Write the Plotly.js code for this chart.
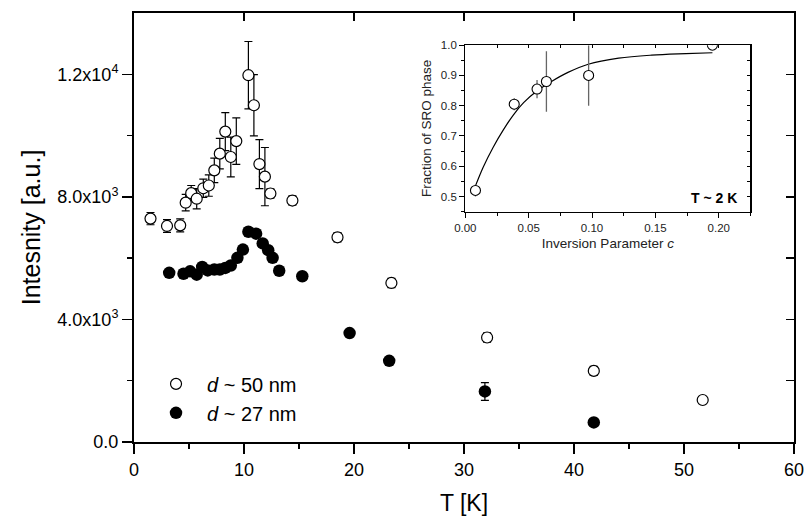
<!DOCTYPE html>
<html>
<head>
<meta charset="utf-8">
<script src="https://cdn.plot.ly/plotly-3.0.1.min.js"></script>
<style>html,body{margin:0;padding:0;background:#fff;}#chart{width:806px;height:519px;}</style>
</head>
<body>
<div id="chart"></div>
<script>
// Main panel: d ~ 50 nm (open circles)
const T50   = [1.5, 3.0, 4.2, 4.7, 5.2, 5.7, 6.3, 6.8, 7.3, 7.8, 8.3, 8.8, 9.3, 10.4, 10.9, 11.4, 11.9, 12.4, 14.4, 18.5, 23.4, 32.1, 41.8, 51.7];
const I50   = [7290, 7050, 7070, 7810, 8120, 7940, 8280, 8370, 8865, 9410, 10130, 9300, 9820, 11970, 10990, 9070, 8660, 8110, 7880, 6680, 5190, 3410, 2320, 1370];
const err50 = [200, 210, 210, 270, 250, 330, 300, 350, 400, 500, 620, 650, 760, 1100, 1000, 800, 950, 150, 150, 150, 150, 150, 150, 100];
// Main panel: d ~ 27 nm (filled circles)
const T27   = [3.2, 4.5, 5.1, 5.7, 6.2, 6.7, 7.3, 7.8, 8.3, 8.8, 9.4, 9.9, 10.4, 11.1, 11.7, 12.2, 12.6, 13.2, 15.3, 19.6, 23.2, 31.9, 41.8];
const I27   = [5520, 5490, 5570, 5460, 5710, 5600, 5630, 5630, 5680, 5760, 6010, 6280, 6860, 6800, 6480, 6260, 6010, 5590, 5410, 3555, 2650, 1650, 640];
const err27 = [0, 0, 0, 0, 0, 0, 0, 0, 0, 0, 0, 0, 0, 0, 0, 0, 0, 0, 0, 0, 0, 290, 0];
// Inset: fraction of SRO phase vs inversion parameter
const cInv   = [0.008, 0.0386, 0.0566, 0.064, 0.0973, 0.195];
const fSRO   = [0.52, 0.805, 0.855, 0.88, 0.90, 1.0];
const errSRO = [0.02, 0.02, 0.03, 0.10, 0.10, 0.005];
// Inset fit curve
const fitC = [0.008, 0.014, 0.022, 0.030, 0.038, 0.046, 0.057, 0.068, 0.081, 0.097, 0.121, 0.147, 0.174, 0.195];
const fitF = [0.535, 0.596, 0.663, 0.720, 0.770, 0.810, 0.850, 0.880, 0.910, 0.937, 0.957, 0.967, 0.972, 0.975];
// Tick labels
const yTickVals = [0, 4000, 8000, 12000];
const yTickText = ['0.0', '4.0x10<sup>3</sup>', '8.0x10<sup>3</sup>', '1.2x10<sup>4</sup>'];
const yMinorVals = [2000, 6000, 10000];
const legendNames = ['<i>d</i> ~ 50 nm', '<i>d</i> ~ 27 nm'];

const FONT = 'Arial, "Liberation Sans", sans-serif';

const traces = [
  {
    x: T50, y: I50, type: 'scatter', mode: 'markers', name: legendNames[0],
    legendgroup: 'a',
    marker: {symbol: 'circle', size: 11, color: '#ffffff', line: {color: '#000000', width: 1.2}},
    error_y: {type: 'data', array: err50, visible: true, color: '#000000', thickness: 1.2, width: 4},
    hoverinfo: 'x+y'
  },
  {
    x: T27, y: I27, type: 'scatter', mode: 'markers', name: legendNames[1],
    legendgroup: 'b',
    marker: {symbol: 'circle', size: 12.5, color: '#000000', line: {color: '#000000', width: 0}},
    error_y: {type: 'data', array: err27, visible: true, color: '#000000', thickness: 1.2, width: 4},
    hoverinfo: 'x+y'
  },
  {
    x: fitC, y: fitF, type: 'scatter', mode: 'lines', xaxis: 'x2', yaxis: 'y2',
    line: {color: '#000000', width: 1.2, shape: 'spline', smoothing: 1}, showlegend: false, hoverinfo: 'skip'
  },
  {
    x: cInv, y: fSRO, type: 'scatter', mode: 'markers', xaxis: 'x2', yaxis: 'y2',
    marker: {symbol: 'circle', size: 10, color: '#ffffff', line: {color: '#000000', width: 1.1}},
    error_y: {type: 'data', array: errSRO, visible: true, color: '#666666', thickness: 1.3, width: 0},
    showlegend: false
  },
  {x: [null], y: [null], xaxis: 'x3', yaxis: 'y3', type: 'scatter', mode: 'markers', showlegend: false, hoverinfo: 'skip'},
  {x: [null], y: [null], xaxis: 'x4', yaxis: 'y4', type: 'scatter', mode: 'markers', showlegend: false, hoverinfo: 'skip'}
];

const layout = {
  width: 806, height: 519,
  margin: {l: 134, r: 12, t: 13, b: 77},
  paper_bgcolor: '#ffffff', plot_bgcolor: '#ffffff',
  font: {family: FONT, color: '#000000', size: 18},
  showlegend: true,
  legend: {
    x: 0.0167, y: 0.181, xanchor: 'left', yanchor: 'top',
    bgcolor: 'rgba(0,0,0,0)', borderwidth: 0,
    font: {family: FONT, size: 20, color: '#000000'},
    traceorder: 'grouped', tracegroupgap: 0, itemwidth: 52
  },
  xaxis: {
    domain: [0, 1], range: [0, 60], tickmode: 'linear', tick0: 0, dtick: 10,
    ticks: 'outside', ticklen: 10, tickwidth: 1.5, tickcolor: '#000',
    minor: {dtick: 5, ticks: 'outside', ticklen: 5, tickwidth: 1.5, tickcolor: '#000'},
    showline: true, linewidth: 2, linecolor: '#000', mirror: true,
    showgrid: false, zeroline: false,
    tickfont: {family: FONT, size: 18},
    title: {text: 'T [K]', font: {family: FONT, size: 23}, standoff: 16}
  },
  yaxis: {
    domain: [0, 1], range: [0, 14000], tickmode: 'array', tickvals: yTickVals, ticktext: yTickText,
    ticks: 'outside', ticklen: 10, tickwidth: 1.5, tickcolor: '#000',
    minor: {tickmode: 'array', tickvals: yMinorVals, ticks: 'outside', ticklen: 5, tickwidth: 1.5, tickcolor: '#000'},
    showline: true, linewidth: 2, linecolor: '#000', mirror: true,
    showgrid: false, zeroline: false,
    tickfont: {family: FONT, size: 18},
    title: {text: 'Intesnity [a.u.]', font: {family: FONT, size: 25}, standoff: 10}
  },
  xaxis3: {
    overlaying: 'x', side: 'top', anchor: 'y', range: [0, 60], tickmode: 'linear', tick0: 0, dtick: 10,
    ticks: 'inside', ticklen: 8, tickwidth: 1.5, tickcolor: '#000', showticklabels: false,
    showline: false, showgrid: false, zeroline: false
  },
  yaxis3: {
    overlaying: 'y', side: 'right', anchor: 'x', range: [0, 14000], tickmode: 'linear', tick0: 0, dtick: 2000,
    ticks: 'inside', ticklen: 8, tickwidth: 1.5, tickcolor: '#000', showticklabels: false,
    showline: false, showgrid: false, zeroline: false
  },
  xaxis2: {
    domain: [0.502, 0.934], anchor: 'y2', range: [0, 0.225], tickmode: 'linear', tick0: 0, dtick: 0.05,
    tickformat: '.2f',
    ticks: 'outside', ticklen: 5, tickwidth: 1, tickcolor: '#000',
    minor: {dtick: 0.025, ticks: 'outside', ticklen: 3, tickwidth: 1, tickcolor: '#000'},
    showline: true, linewidth: 1.2, linecolor: '#000', mirror: true,
    showgrid: false, zeroline: false,
    tickfont: {family: FONT, size: 11.5, color: '#222'},
    title: {text: 'Inversion Parameter <i>c</i>', font: {family: FONT, size: 13.5, color: '#222'}, standoff: 6}
  },
  yaxis2: {
    domain: [0.537, 0.925], anchor: 'x2', range: [0.45, 1.0], tickmode: 'linear', tick0: 0, dtick: 0.1,
    tickformat: '.1f',
    ticks: 'outside', ticklen: 5, tickwidth: 1, tickcolor: '#000',
    minor: {dtick: 0.05, ticks: 'outside', ticklen: 3, tickwidth: 1, tickcolor: '#000'},
    showline: true, linewidth: 1.2, linecolor: '#000', mirror: true,
    showgrid: false, zeroline: false,
    tickfont: {family: FONT, size: 11.5, color: '#222'},
    title: {text: 'Fraction of SRO phase', font: {family: FONT, size: 13.5, color: '#222'}, standoff: 6}
  },
  xaxis4: {
    overlaying: 'x2', side: 'top', anchor: 'y2', range: [0, 0.225], tickmode: 'linear', tick0: 0, dtick: 0.025,
    ticks: 'inside', ticklen: 3, tickwidth: 1, tickcolor: '#000', showticklabels: false,
    showline: false, showgrid: false, zeroline: false
  },
  yaxis4: {
    overlaying: 'y2', side: 'right', anchor: 'x2', range: [0.45, 1.0], tickmode: 'linear', tick0: 0, dtick: 0.05,
    ticks: 'inside', ticklen: 3, tickwidth: 1, tickcolor: '#000', showticklabels: false,
    showline: false, showgrid: false, zeroline: false
  },
  annotations: [
    {xref: 'x2', yref: 'y2', x: 0.196, y: 0.496, text: '<b>T ~ 2 K</b>', showarrow: false,
     xanchor: 'center', yanchor: 'middle', font: {family: FONT, size: 14, color: '#000'}}
  ]
};

Plotly.newPlot('chart', traces, layout, {displayModeBar: false, staticPlot: true});
</script>
</body>
</html>
